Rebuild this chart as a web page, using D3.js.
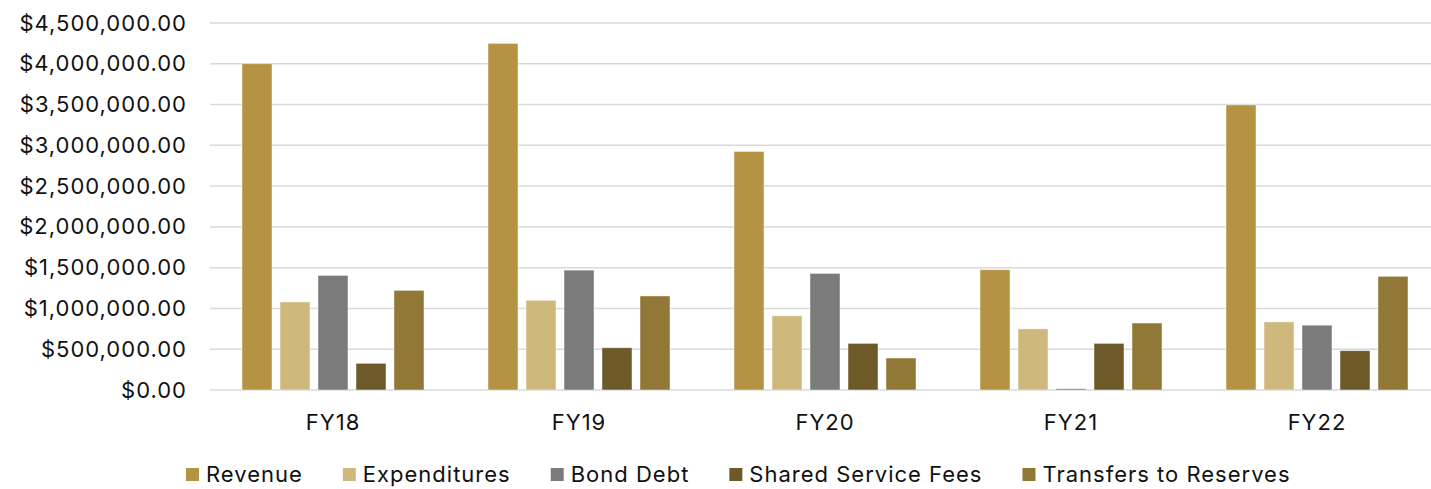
<!DOCTYPE html>
<html>
<head>
<meta charset="utf-8">
<script src="https://cdn.jsdelivr.net/npm/d3@7"></script>
<style>
  body { margin: 0; background: #fff; }
  svg { display: block; font-family: Inter, "Noto Sans", sans-serif; }
</style>
</head>
<body>
<svg id="chart" width="1431" height="489"></svg>
<script>
/*Chart data*/
var years = ["FY18", "FY19", "FY20", "FY21", "FY22"];
var seriesNames = ["Revenue", "Expenditures", "Bond Debt", "Shared Service Fees", "Transfers to Reserves"];
var seriesColors = ["#B49443", "#CFB87C", "#7A7B7A", "#6E5A29", "#927836"];

var revenue = [4000000, 4250000, 2925000, 1475000, 3495000];
var expenditures = [1080000, 1100000, 910000, 750000, 835000];
var bondDebt = [1405000, 1470000, 1430000, 16000, 795000];
var sharedFees = [327000, 518000, 572000, 572000, 482000];
var transfers = [1222000, 1153000, 392000, 821000, 1394000];

var yTicks = [0, 500000, 1000000, 1500000, 2000000, 2500000, 3000000, 3500000, 4000000, 4500000];

var allSeries = [revenue, expenditures, bondDebt, sharedFees, transfers];

var svg = d3.select("#chart"),
    width = +svg.attr("width"),
    height = +svg.attr("height");

var plotLeft = 210, plotTop = 23, plotBottom = 390;
var fontSize = 22, spacing = 1.0;

//Scales
var x0 = d3.scaleBand().domain(years).range([plotLeft, 1440]).padding(0);
var x1 = d3.scaleBand().domain(seriesNames).range([0, x0.bandwidth()])
  .paddingInner(0.2105).paddingOuter(0.842);
var y = d3.scaleLinear().domain([0, 4500000]).range([plotBottom, plotTop]);

var money = d3.format("$,.2f");

//Gridlines
svg.append("g")
  .selectAll("line")
  .data(yTicks)
  .enter().append("line")
  .attr("x1", plotLeft)
  .attr("x2", width)
  .attr("y1", function(d) { return y(d); })
  .attr("y2", function(d) { return y(d); })
  .attr("stroke", "#D9D9D9")
  .attr("stroke-width", 1.5);

//Y axis labels
var yAxis = svg.append("g")
  .attr("transform", "translate(" + 187 + ",0)")
  .call(d3.axisLeft(y).tickValues(yTicks).tickFormat(money).tickSize(0).tickPadding(0));
yAxis.select(".domain").remove();
yAxis.selectAll("text")
  .attr("font-size", fontSize)
  .attr("letter-spacing", spacing)
  .attr("font-family", "Inter, sans-serif")
  .attr("fill", "#111");

//Bars
var groups = svg.append("g")
  .selectAll("g")
  .data(years)
  .enter().append("g")
  .attr("transform", function(d) { return "translate(" + x0(d) + ",0)"; });

groups.selectAll("rect")
  .data(function(d, i) {
    return seriesNames.map(function(name, j) {
      return {name: name, value: allSeries[j][i], color: seriesColors[j]};
    });
  })
  .enter().append("rect")
  .attr("x", function(d) { return x1(d.name); })
  .attr("width", x1.bandwidth())
  .attr("y", function(d) { return y(d.value); })
  .attr("height", function(d) { return y(0) - y(d.value); })
  .attr("fill", function(d) { return d.color; })
  .attr("stroke", "#ffffff")
  .attr("stroke-opacity", 0.6)
  .attr("stroke-width", 0.75);

//X axis labels
var xAxis = svg.append("g")
  .attr("transform", "translate(0," + plotBottom + ")")
  .call(d3.axisBottom(x0).tickSize(0).tickPadding(0));
xAxis.select(".domain").remove();
xAxis.selectAll("text")
  .attr("dy", null)
  .attr("y", 40)
  .attr("font-size", fontSize)
  .attr("letter-spacing", spacing)
  .attr("font-family", "Inter, sans-serif")
  .attr("fill", "#111");

//Legend
var legend = svg.append("g").attr("transform", "translate(0,474)");
var lx = 186;
seriesNames.forEach(function(name, i) {
  var item = legend.append("g").attr("transform", "translate(" + lx + ",0)");
  item.append("rect")
    .attr("x", 0).attr("y", -6)
    .attr("width", 13).attr("height", 13)
    .attr("fill", seriesColors[i]);
  var t = item.append("text")
    .attr("x", 20).attr("y", 8)
    .attr("font-size", fontSize)
    .attr("letter-spacing", spacing)
    .attr("fill", "#111")
    .text(name);
  lx += 20 + t.node().getComputedTextLength() + 40;
});
</script>
</body>
</html>
